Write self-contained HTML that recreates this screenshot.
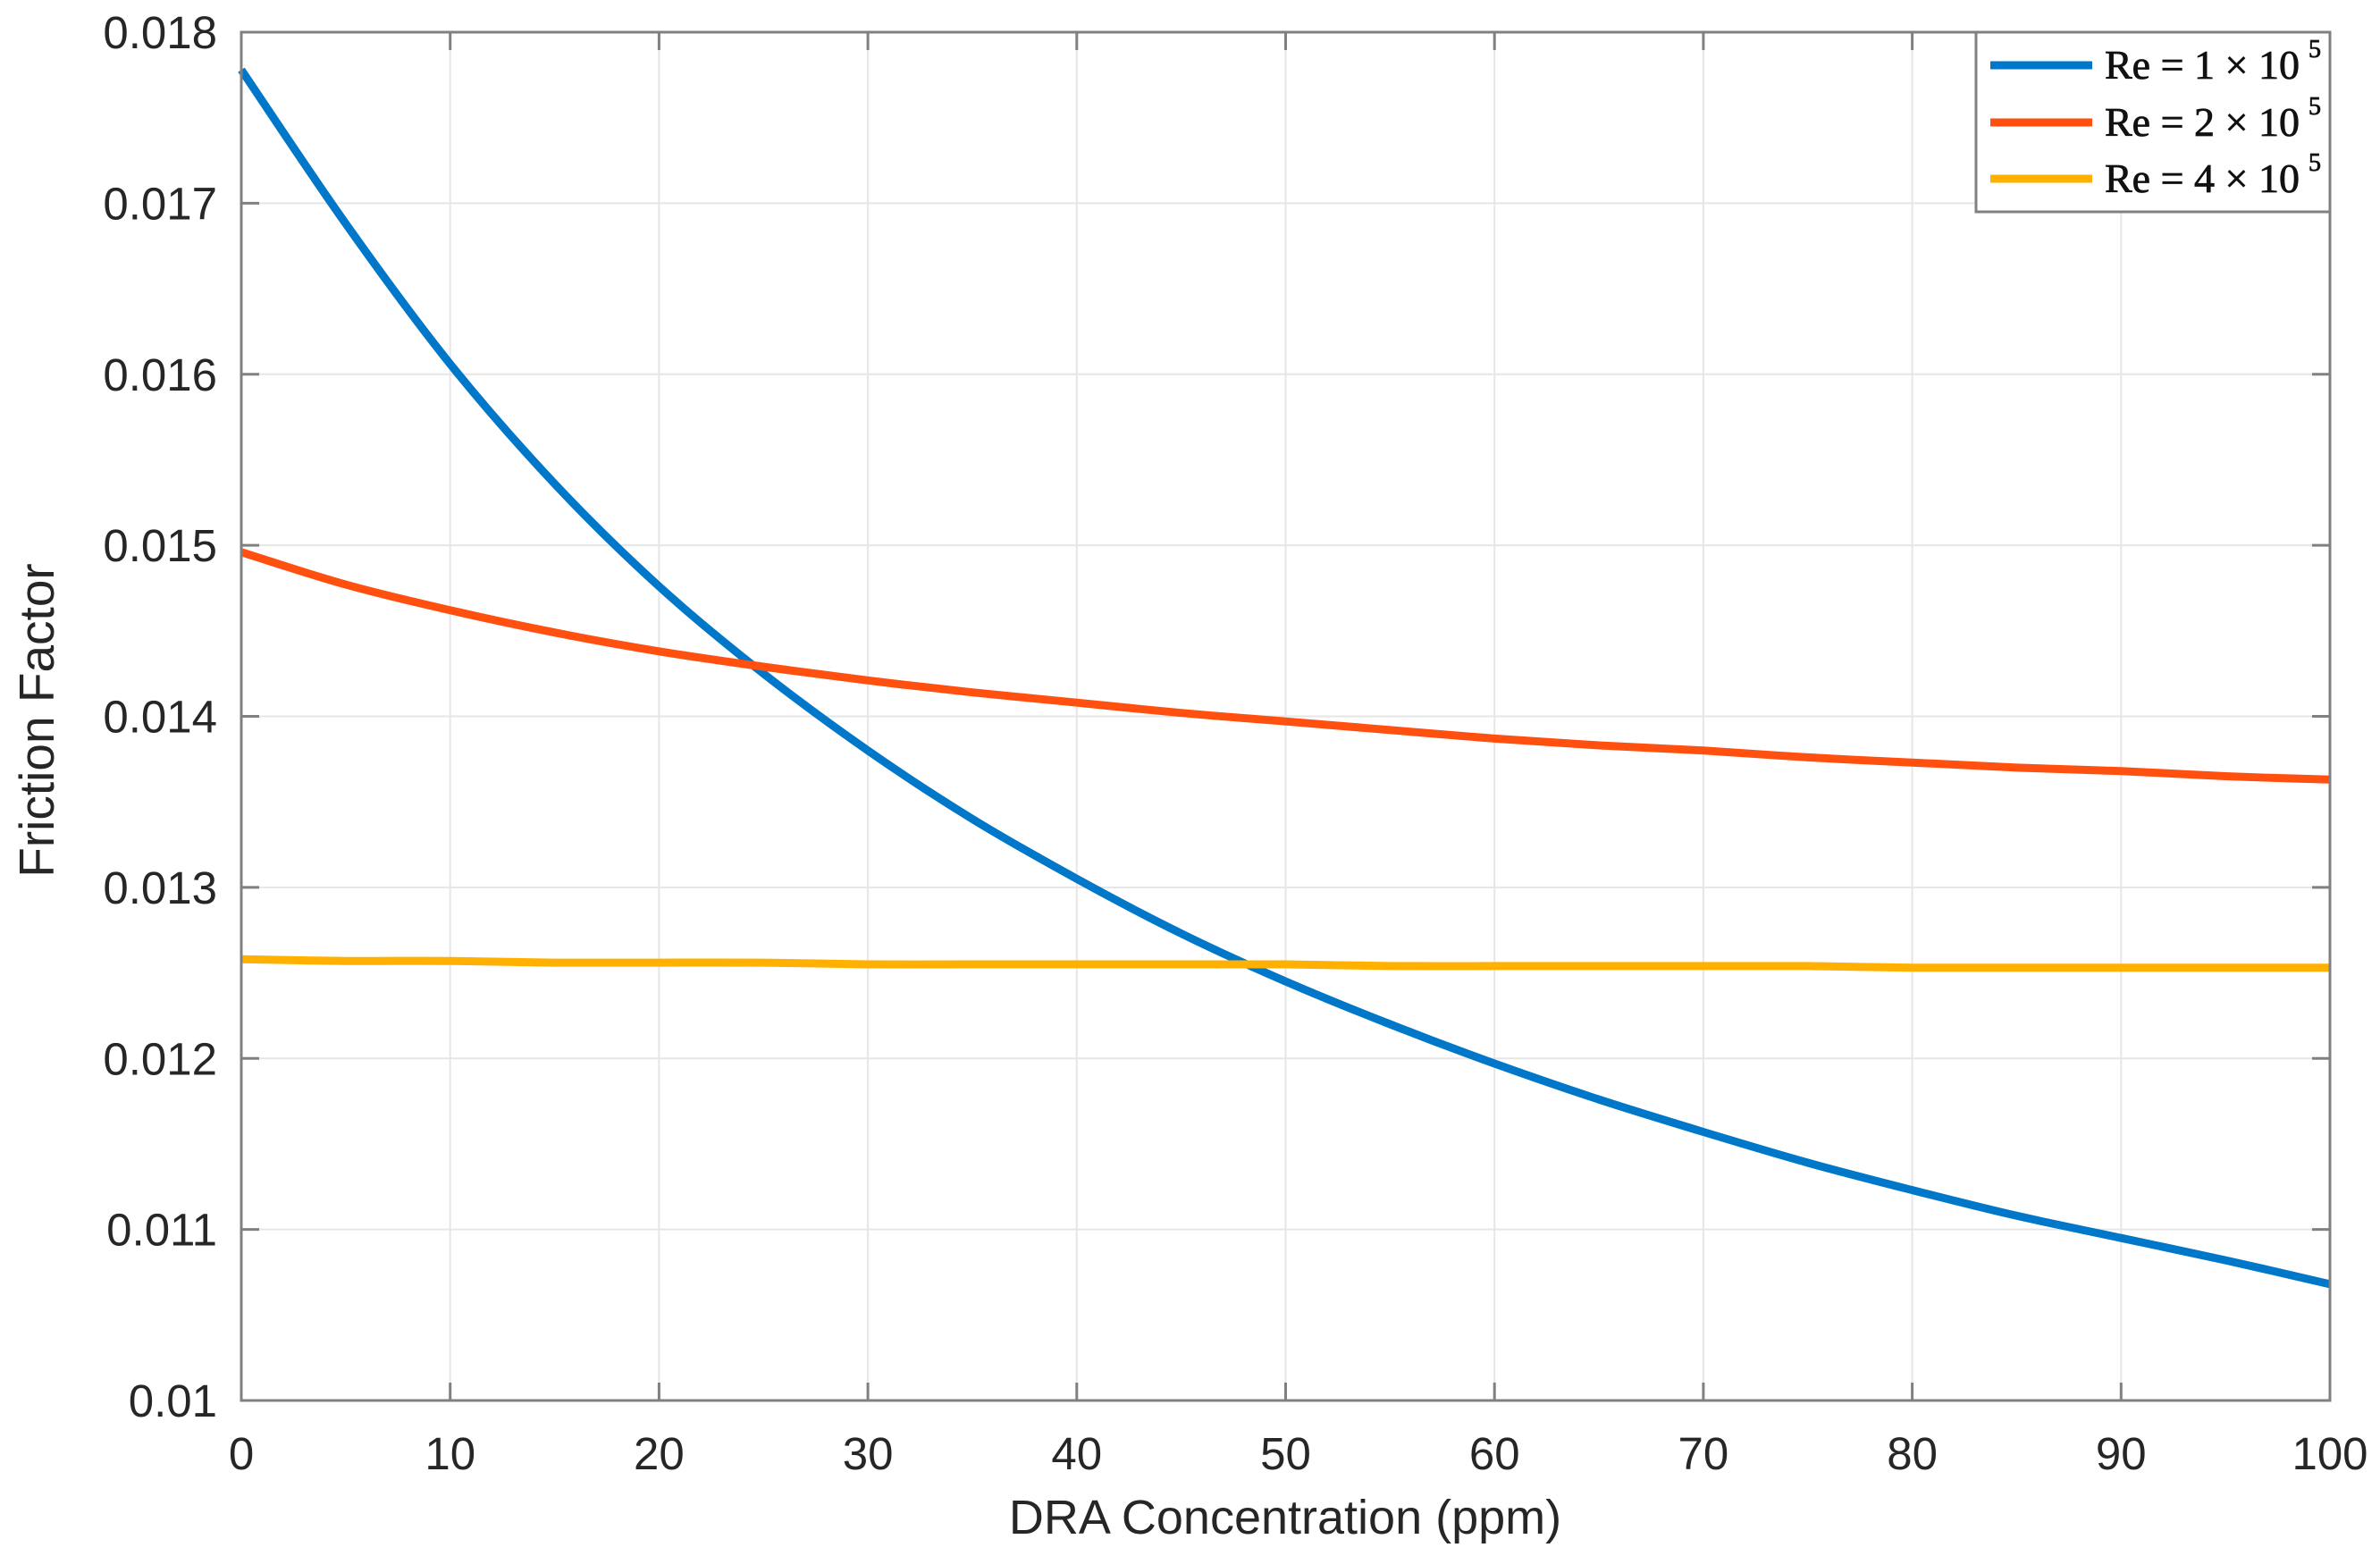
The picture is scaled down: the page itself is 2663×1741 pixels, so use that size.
<!DOCTYPE html>
<html><head><meta charset="utf-8"><style>
html,body{margin:0;padding:0;background:#fff;}
svg{display:block;}
</style></head><body>
<svg id="chart" width="2663" height="1741" viewBox="0 0 2663 1741" xmlns="http://www.w3.org/2000/svg">
<g id="grid"></g>
<g id="series"></g>
<rect x="270" y="36" width="2337" height="1531" fill="none" stroke="#808080" stroke-width="3"/>
<g id="ticks"></g>
<g id="labels" font-family="Liberation Sans, sans-serif" font-size="51" fill="#262626"></g>
<text x="1438" y="1716" text-anchor="middle" font-family="Liberation Sans, sans-serif" font-size="54" fill="#262626">DRA Concentration (ppm)</text>
<text transform="translate(60,806) rotate(-90)" text-anchor="middle" font-family="Liberation Sans, sans-serif" font-size="55" fill="#262626">Friction Factor</text>
<g>
<rect x="2211" y="36" width="396" height="201" fill="#fff" stroke="#808080" stroke-width="3"/>
<g id="legend-entries" font-family="Liberation Serif, serif" font-size="46" fill="#111" stroke="#111" stroke-width="0.8"></g>
</g>
</svg>
<script>
const xTicks = [0,10,20,30,40,50,60,70,80,90,100];
const yTicks = [0.01,0.011,0.012,0.013,0.014,0.015,0.016,0.017,0.018];
const yTickLabels = ["0.01","0.011","0.012","0.013","0.014","0.015","0.016","0.017","0.018"];
const xValues = [0,5,10,15,20,25,30,35,40,45,50,55,60,65,70,75,80,85,90,95,100];
const re1Values = [0.01778,0.01688,0.01606,0.01536,0.01476,0.01425,0.0138,0.0134,0.01305,0.01273,0.01245,0.0122,0.01197,0.01176,0.01157,0.01139,0.01123,0.01108,0.01095,0.01082,0.01068];
const re2Values = [0.01496,0.01477,0.01462,0.01449,0.01438,0.01429,0.01421,0.01414,0.01408,0.01402,0.01397,0.01392,0.01387,0.01383,0.0138,0.01376,0.01373,0.0137,0.01368,0.01365,0.01363];
const re4Values = [0.01258,0.01257,0.01257,0.01256,0.01256,0.01256,0.01255,0.01255,0.01255,0.01255,0.01255,0.01254,0.01254,0.01254,0.01254,0.01254,0.01253,0.01253,0.01253,0.01253,0.01253];
const seriesNames = ["Re = 1","Re = 2","Re = 4"];
const seriesColors = ["#0077C8","#FF5010","#FFB000"];

const NS = "http://www.w3.org/2000/svg";
const L=270,R=2607,T=36,B=1567;
const sx = v => L + (v-0)/(100-0)*(R-L);
const sy = v => B - (v-0.01)/(0.018-0.01)*(B-T);
function mk(tag, attrs, parent){const e=document.createElementNS(NS,tag);for(const k in attrs)e.setAttribute(k,attrs[k]);parent.appendChild(e);return e;}
const grid=document.getElementById('grid'), ticks=document.getElementById('ticks'), labels=document.getElementById('labels');
xTicks.forEach((t,i)=>{
  const x=sx(t);
  const g=mk('line',{x1:x,x2:x,y1:T,y2:B,stroke:'#e6e6e6','stroke-width':2},grid);
  
  
  const a=mk('line',{x1:x,x2:x,y1:B,y2:B-20,stroke:'#808080','stroke-width':3},ticks);
  
  
  const b=mk('line',{x1:x,x2:x,y1:T,y2:T+20,stroke:'#808080','stroke-width':3},ticks);
  
  
  const tx=mk('text',{x:x,y:1644,'text-anchor':'middle'},labels);
  tx.textContent=String(t);
  
  
});
yTicks.forEach((t,i)=>{
  const y=sy(t);
  const g=mk('line',{x1:L,x2:R,y1:y,y2:y,stroke:'#e6e6e6','stroke-width':2},grid);
  
  
  const a=mk('line',{x1:L,x2:L+20,y1:y,y2:y,stroke:'#808080','stroke-width':3},ticks);
  
  
  const b=mk('line',{x1:R,x2:R-20,y1:y,y2:y,stroke:'#808080','stroke-width':3},ticks);
  
  
  const tx=mk('text',{x:243,y:y+18,'text-anchor':'end'},labels);
  tx.textContent=yTickLabels[i];
  
  
});
function smoothPath(px,py){
  let d='M'+px[0].toFixed(1)+' '+py[0].toFixed(1);
  for(let i=0;i<px.length-1;i++){
    const i0=Math.max(0,i-1), i3=Math.min(px.length-1,i+2);
    const c1x=px[i]+(px[i+1]-px[i0])/6, c1y=py[i]+(py[i+1]-py[i0])/6;
    const c2x=px[i+1]-(px[i3]-px[i])/6, c2y=py[i+1]-(py[i3]-py[i])/6;
    d+=' C'+c1x.toFixed(1)+' '+c1y.toFixed(1)+' '+c2x.toFixed(1)+' '+c2y.toFixed(1)+' '+px[i+1].toFixed(1)+' '+py[i+1].toFixed(1);
  }
  return d;
}
const series=document.getElementById('series');
[re1Values,re2Values,re4Values].forEach((vals,si)=>{
  const d=smoothPath(xValues.map(sx), vals.map(sy));
  const p=mk('path',{d:d,fill:'none',stroke:seriesColors[si],'stroke-width':9,'stroke-linejoin':'round'},series);
  
  
});
const le=document.getElementById('legend-entries');
const ly=[73,137,200];
seriesNames.forEach((n,i)=>{
  const ln=mk('line',{x1:2227,x2:2341,y1:ly[i],y2:ly[i],stroke:seriesColors[i],'stroke-width':9},le);
  
  
  const t=mk('text',{x:2355,y:ly[i]+15},le);
  
  
  t.textContent=n+' \u00d7 10';
  const s=mk('tspan',{dx:10,dy:-24,'font-size':28},t);
  s.textContent='5';
});
</script>
</body></html>
